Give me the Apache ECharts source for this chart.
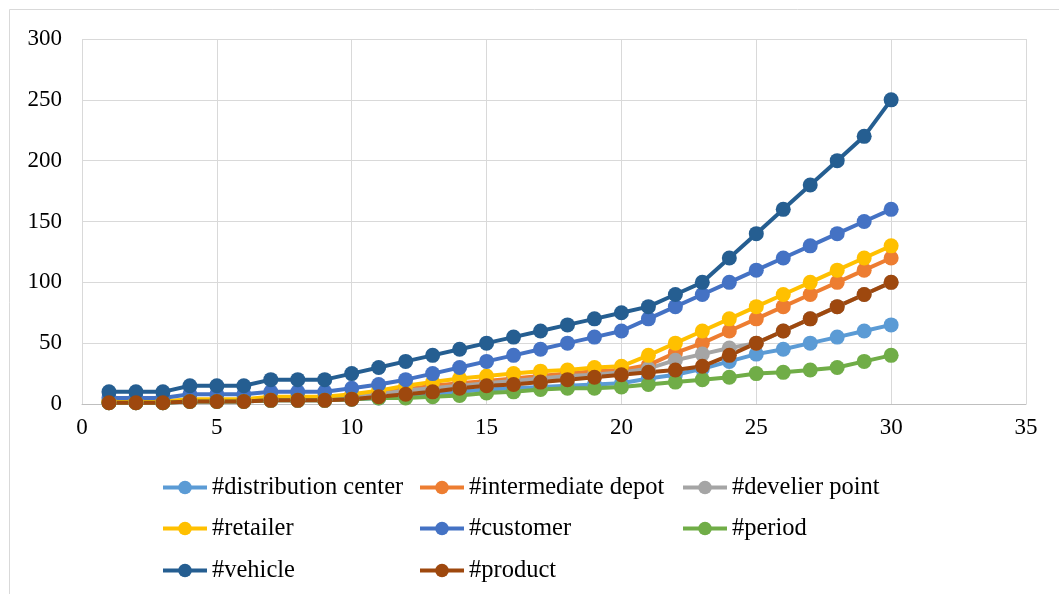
<!DOCTYPE html>
<html>
<head>
<meta charset="utf-8">
<script src="https://cdn.jsdelivr.net/npm/echarts@6/dist/echarts.min.js"></script>
<style>
  html, body { margin: 0; padding: 0; background: #fff; }
  #chart { width: 1059px; height: 594px; }
</style>
</head>
<body>
<div id="chart"></div>
<script>
// Instance size (x axis)
const sizes = [1,2,3,4,5,6,7,8,9,10,11,12,13,14,15,16,17,18,19,20,21,22,23,24,25,26,27,28,29,30];

const seriesNames = [
  '#distribution center', '#intermediate depot', '#develier point',
  '#retailer', '#customer', '#period', '#vehicle', '#product'
];

const distributionCenter = [1,1,1,2,2,2,3,3,3,4,5,6,8,10,12,13,14,15,16,17,21,24,29,35,41,45,50,55,60,65];
const intermediateDepot  = [2,2,2,3,3,3,5,5,5,7,9,12,15,17,19,21,23,25,27,28,32,42,50,60,70,80,90,100,110,120];
const develierPoint      = [1,1,1,3,3,3,4,4,4,6,8,11,13,15,17,19,21,23,24,26,29,36,41,46,50,60,70,80,90,100];
const retailer           = [2,2,2,4,4,4,6,6,6,8,11,15,18,21,23,25,27,28,30,31,40,50,60,70,80,90,100,110,120,130];
const customer           = [5,5,5,8,8,8,10,10,10,13,16,20,25,30,35,40,45,50,55,60,70,80,90,100,110,120,130,140,150,160];
const period             = [1,1,1,2,2,2,3,3,3,4,5,5,6,7,9,10,12,13,13,14,16,18,20,22,25,26,28,30,35,40];
const vehicle            = [10,10,10,15,15,15,20,20,20,25,30,35,40,45,50,55,60,65,70,75,80,90,100,120,140,160,180,200,220,250];
const product            = [1,1,1,2,2,2,3,3,3,4,6,8,10,13,15,16,18,20,22,24,26,28,31,40,50,60,70,80,90,100];

const seriesValues = [distributionCenter, intermediateDepot, develierPoint, retailer, customer, period, vehicle, product];
const colors = ['#5B9BD5', '#ED7D31', '#A5A5A5', '#FFC000', '#4472C4', '#70AD47', '#255E91', '#9E480E'];

const xTicks = { min: 0, max: 35, interval: 5 };
const yTicks = { min: 0, max: 300, interval: 50 };

const font = 'Liberation Serif';

// three-column legend placement
const legendCols = [161, 418, 681];
const legendRows = [475, 516, 558];

const legends = seriesNames.map((name, i) => ({
  data: [name],
  left: legendCols[i % 3],
  top: legendRows[Math.floor(i / 3)],
  padding: 0,
  itemWidth: 44,
  itemHeight: 17,
  lineStyle: { width: 4 },
  textStyle: { fontFamily: font, fontSize: 24.5, color: '#000' },
  selectedMode: false
}));

const chart = echarts.init(document.getElementById('chart'), null, { renderer: 'canvas' });

chart.setOption({
  animation: false,
  backgroundColor: '#fff',
  graphic: [{
    type: 'rect',
    shape: { x: 9.5, y: 9.5, width: 1100, height: 700 },
    style: { fill: 'none', stroke: '#D9D9D9', lineWidth: 1 },
    silent: true
  }],
  grid: { left: 82, right: 33, top: 39, bottom: 190 },
  legend: legends,
  xAxis: {
    type: 'value',
    min: xTicks.min, max: xTicks.max, interval: xTicks.interval,
    axisLine: { show: true, lineStyle: { color: '#BFBFBF', width: 1 } },
    axisTick: { show: false },
    splitLine: { show: true, lineStyle: { color: '#D9D9D9', width: 1 } },
    axisLabel: { fontFamily: font, fontSize: 23, color: '#000', margin: 12 }
  },
  yAxis: {
    type: 'value',
    min: yTicks.min, max: yTicks.max, interval: yTicks.interval,
    axisLine: { show: false },
    axisTick: { show: false },
    splitLine: { show: true, lineStyle: { color: '#D9D9D9', width: 1 } },
    axisLabel: { fontFamily: font, fontSize: 23, color: '#000', margin: 20 }
  },
  series: seriesNames.map((name, i) => ({
    name,
    type: 'line',
    data: sizes.map((x, j) => [x, seriesValues[i][j]]),
    symbol: 'circle',
    symbolSize: 15,
    color: colors[i],
    lineStyle: { width: 4, color: colors[i] },
    itemStyle: { color: colors[i] },
    emphasis: { disabled: true }
  }))
});
</script>
</body>
</html>
